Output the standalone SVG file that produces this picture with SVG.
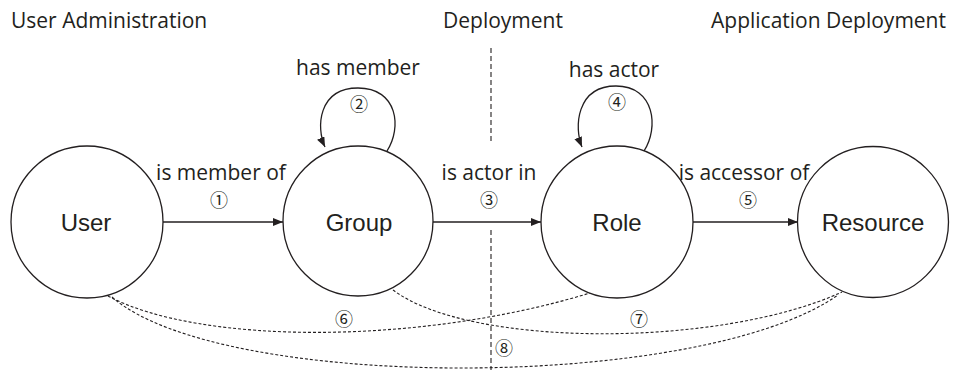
<svg xmlns="http://www.w3.org/2000/svg" width="953" height="370" viewBox="0 0 953 370">
<style>
.node{fill:#fff;stroke:#231f20;stroke-width:1.3}
.nl{font-family:"Liberation Sans",Arial,sans-serif;font-size:24px;fill:#231f20;text-anchor:middle}
.lab{font-family:"Open Sans","Noto Sans",sans-serif;font-size:21px;fill:#231f20;text-anchor:middle}
.hdr{font-family:"Open Sans","Noto Sans",sans-serif;font-size:21px;fill:#231f20}
.num{font-family:"Noto Sans CJK JP","DejaVu Sans",sans-serif;font-size:18px;fill:#231f20;text-anchor:middle}
.edge{fill:none;stroke:#231f20;stroke-width:1.3}
.dot{fill:none;stroke:#231f20;stroke-width:1.1;stroke-dasharray:3 2}
.sep{fill:none;stroke:#231f20;stroke-width:1.1;stroke-dasharray:5 3}
</style>
<defs>
<marker id="ah" viewBox="0 0 10 8" refX="10" refY="4" markerWidth="10" markerHeight="8" markerUnits="userSpaceOnUse" orient="auto">
<path d="M0,0 L10,4 L0,8 Z" fill="#231f20"/>
</marker>
</defs>
<g id="headers">
<text class="hdr" x="11" y="28">User Administration</text>
<text class="hdr" x="503" y="28" text-anchor="middle">Deployment</text>
<text class="hdr" x="946" y="28" text-anchor="end">Application Deployment</text>
</g>
<g id="separator">
<line class="sep" x1="491" y1="48" x2="491" y2="142"/>
<line class="sep" x1="491" y1="230" x2="491" y2="370"/>
</g>
<g id="connectors">
<line class="edge" x1="163" y1="222" x2="283" y2="222" marker-end="url(#ah)"/>
<line class="edge" x1="433" y1="222" x2="541" y2="222" marker-end="url(#ah)"/>
<line class="edge" x1="693" y1="222" x2="798" y2="222" marker-end="url(#ah)"/>
<path class="edge" d="M387,151 C402,128 398,88 358,88 C318,88 316,128 325,147" marker-end="url(#ah)"/>
<path class="edge" d="M644,151 C659,128 655,86 616,86 C576,86 574,128 582,147" marker-end="url(#ah)"/>
<path class="dot" d="M108,296 C200,345 420,345 590,293"/>
<path class="dot" d="M393,290 C470,348 720,348 842,292"/>
<path class="dot" d="M112,297 C220,392 700,392 838,295"/>
<text class="lab" x="221" y="180">is member of</text>
<text class="num" x="219" y="207">①</text>
<text class="lab" x="358" y="75">has member</text>
<text class="num" x="359" y="111">②</text>
<text class="lab" x="489" y="180">is actor in</text>
<text class="num" x="489" y="207">③</text>
<text class="lab" x="614" y="77">has actor</text>
<text class="num" x="617" y="109">④</text>
<text class="lab" x="744" y="180">is accessor of</text>
<text class="num" x="748" y="207">⑤</text>
<text class="num" x="344" y="326">⑥</text>
<text class="num" x="639" y="326">⑦</text>
<text class="num" x="504" y="355">⑧</text>
</g>
<g id="user"><circle class="node" cx="87" cy="222" r="76"/><text class="nl" x="86" y="231">User</text></g>
<g id="group"><circle class="node" cx="358" cy="221" r="75"/><text class="nl" x="359" y="231">Group</text></g>
<g id="role"><circle class="node" cx="617" cy="222" r="76"/><text class="nl" x="617" y="231">Role</text></g>
<g id="resource"><circle class="node" cx="873" cy="222" r="75.5"/><text class="nl" x="873" y="231">Resource</text></g>
</svg>
